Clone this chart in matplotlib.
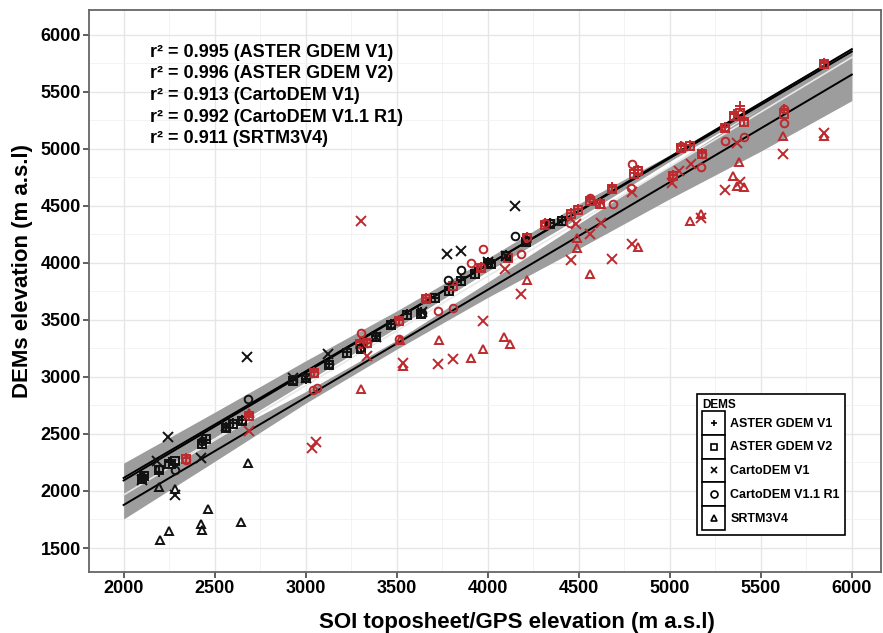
import numpy as np
import matplotlib
matplotlib.use("Agg")
import matplotlib.pyplot as plt
from matplotlib.legend_handler import HandlerBase
from matplotlib.patches import Rectangle
from matplotlib.lines import Line2D

plt.rcParams['font.family'] = ['Liberation Sans', 'DejaVu Sans']
plt.rcParams['font.weight'] = 'bold'

RED = '#bd2a2e'
BLACK = '#111111'

# stations close to the 1:1 line (shared by both ASTER versions)
stn_kx = [2100, 2110, 2195, 2250, 2285, 2430, 2455, 2565, 2600, 2650,
          2930, 3000, 3130, 3225, 3305, 3385, 3470, 3555, 3635, 3710,
          3785, 3855, 3930, 4000, 4020, 4100, 4210, 4340, 4410]
stn_rx = [2345, 2690, 3045, 3300, 3335, 3510, 3660, 3810, 3965, 4110,
          4215, 4315, 4455, 4495, 4560, 4615, 4685, 4805, 4825, 5015,
          5060, 5110, 5175, 5305, 5350, 5385, 5410, 5625, 5845]

aster1_ky = [2115, 2125, 2165, 2250, 2235, 2425, 2445, 2560, 2595, 2620,
             2975, 2985, 3115, 3215, 3255, 3360, 3465, 3555, 3565, 3695,
             3760, 3845, 3915, 4005, 3995, 4065, 4195, 4350, 4375]
aster1_ry = [2290, 2665, 3040, 3305, 3300, 3495, 3695, 3805, 3960, 4050,
             4225, 4345, 4440, 4475, 4555, 4520, 4660, 4785, 4810, 4770,
             5020, 5030, 4960, 5190, 5300, 5370, 5250, 5350, 5750]
aster2_ky = [2105, 2130, 2180, 2240, 2265, 2410, 2455, 2550, 2590, 2610,
             2960, 2990, 3105, 3210, 3245, 3350, 3455, 3545, 3555, 3690,
             3750, 3840, 3905, 3995, 3990, 4060, 4185, 4340, 4365]
aster2_ry = [2280, 2655, 3030, 3290, 3295, 3490, 3685, 3795, 3955, 4040,
             4215, 4335, 4425, 4465, 4545, 4515, 4650, 4775, 4800, 4760,
             5010, 5025, 4955, 5180, 5285, 5310, 5235, 5305, 5740]

carto11_kx = [2100, 2195, 2285, 2430, 2565, 2650, 2685, 2930, 3130, 3300,
              3470, 3640, 3780, 3855, 4000, 4150, 4210, 4340]
carto11_ky = [2120, 2190, 2185, 2440, 2560, 2620, 2805, 2975, 3115, 3255,
              3465, 3560, 3850, 3935, 4000, 4235, 4195, 4350]
carto11_rx = [2345, 2690, 3040, 3060, 3045, 3302, 3335, 3510, 3510, 3660,
              3729, 3811, 3910, 3975, 3965, 4183, 4215, 4315, 4450, 4560,
              4686, 4685, 4785, 4795, 4825, 5015, 5060, 5173, 5175, 5304,
              5305, 5408, 5385, 5627, 5627, 5845]
carto11_ry = [2275, 2660, 2885, 2903, 3035, 3385, 3300, 3490, 3332, 3695,
              3577, 3604, 3998, 4121, 3960, 4077, 4225, 4345, 4349, 4568,
              4515, 4655, 4656, 4866, 4810, 4765, 5020, 4840, 4955, 5067,
              5190, 5102, 5300, 5225, 5348, 5745]

carto1_kx = [2100, 2186, 2246, 2285, 2427, 2560, 2678, 2930, 3000, 3121,
             3385, 3640, 3778, 3855, 4000, 4100, 4150]
carto1_ky = [2100, 2263, 2473, 1965, 2290, 2570, 3174, 2990, 2990, 3200,
             3350, 3570, 4077, 4103, 4010, 4055, 4498]
carto1_rx = [2690, 3034, 3056, 3302, 3335, 3537, 3729, 3811, 3975, 4095,
             4183, 4456, 4483, 4560, 4620, 4680, 4795, 4790, 5014, 5052,
             5118, 5173, 5304, 5370, 5386, 5621, 5846]
carto1_ry = [2526, 2377, 2429, 4366, 3183, 3122, 3113, 3157, 3490, 3946,
             3727, 4024, 4340, 4252, 4349, 4033, 4165, 4621, 4700, 4805,
             4866, 4393, 4638, 5050, 4708, 4954, 5138]

srtm_kx = [2192, 2285, 2465, 2427, 2432, 2252, 2202, 2646, 2684]
srtm_ky = [2035, 2018, 1842, 1711, 1658, 1649, 1570, 1728, 2245]
srtm_rx = [2690, 3302, 3537, 3520, 3734, 3910, 3975, 4090, 4123, 4216,
           4489, 4489, 4560, 4620, 4823, 5113, 5173, 5348, 5370, 5408,
           5381, 5621, 5846]
srtm_ry = [2680, 2894, 3096, 3320, 3323, 3166, 3244, 3350, 3288, 3849,
           4217, 4130, 3902, 4515, 4138, 4366, 4428, 4761, 4673, 4664,
           4884, 5111, 5111]

# fitted lines and confidence ribbons
fit_x = [2000, 6000]
fit_upper_a = [2114, 5851]
fit_upper_b = [2092, 5872]
fit_mid = [1965, 5800]
fit_lower = [1877, 5649]

rib_x = [2000, 2500, 3000, 3500, 4000, 4500, 5000, 5500, 6000]
rib_low_lo = [1754, 2259, 2769, 3243, 3696, 4124, 4561, 4978, 5421]
rib_low_hi = [2000, 2453, 2871, 3321, 3830, 4342, 4851, 5360, 5877]
rib_up_lo = [1984, 2470, 2955, 3431, 3925, 4394, 4889, 5357, 5816]
rib_up_hi = [2244, 2690, 3141, 3578, 4039, 4516, 4945, 5418, 5886]

r2_labels = ['r² = 0.995 (ASTER GDEM V1)', 'r² = 0.996 (ASTER GDEM V2)',
             'r² = 0.913 (CartoDEM V1)', 'r² = 0.992 (CartoDEM V1.1 R1)',
             'r² = 0.911 (SRTM3V4)']
dem_names = ['ASTER GDEM V1', 'ASTER GDEM V2', 'CartoDEM V1',
             'CartoDEM V1.1 R1', 'SRTM3V4']
dem_markers = ['+', 's', 'x', 'o', '^']


class BoxedKey(HandlerBase):
    def create_artists(self, legend, orig_handle, xdescent, ydescent,
                       width, height, fontsize, trans):
        box = Rectangle((-xdescent, -ydescent), width, height, fc='white',
                        ec='black', lw=1.2, transform=trans)
        m = Line2D([width / 2 - xdescent], [height / 2 - ydescent],
                   marker=orig_handle.get_marker(), ls='', color='black',
                   mfc='none', ms=5, mew=1.2, transform=trans)
        return [box, m]


fig = plt.figure(figsize=(8.83, 6.33), dpi=100)
ax = fig.add_axes([0.1008, 0.0964, 0.8969, 0.8878])

ax.fill_between(rib_x, rib_low_lo, rib_low_hi, color='#9d9d9d', lw=0, zorder=1)
ax.fill_between(rib_x, rib_up_lo, rib_up_hi, color='#9d9d9d', lw=0, zorder=1)

ax.plot(fit_x, fit_mid, color='#e8e8e8', lw=1.2, zorder=2)
ax.plot(fit_x, fit_upper_a, color='black', lw=1.4, zorder=2)
ax.plot(fit_x, fit_upper_b, color='black', lw=1.4, zorder=2)
ax.plot(fit_x, fit_lower, color='black', lw=1.4, zorder=2)

series = [
    ('+', stn_kx, aster1_ky, stn_rx, aster1_ry),
    ('s', stn_kx, aster2_ky, stn_rx, aster2_ry),
    ('x', carto1_kx, carto1_ky, carto1_rx, carto1_ry),
    ('o', carto11_kx, carto11_ky, carto11_rx, carto11_ry),
    ('^', srtm_kx, srtm_ky, srtm_rx, srtm_ry),
]
for mk, kx, ky, rx, ry in series:
    ms = 6.5 if mk in ('+', 'x') else 5.5
    ax.plot(kx, ky, ls='', marker=mk, ms=ms, mew=1.4, mfc='none',
            color=BLACK, zorder=3)
    ax.plot(rx, ry, ls='', marker=mk, ms=ms, mew=1.4, mfc='none',
            color=RED, zorder=3)

for i, lab in enumerate(r2_labels):
    ax.text(0.077, 0.925 - i * 0.0385, lab, transform=ax.transAxes,
            fontsize=13, fontweight='bold', va='center', ha='left')

ax.set_xlim(1810, 6160)
ax.set_ylim(1290, 6215)
ax.set_xticks(np.arange(2000, 6001, 500))
ax.set_yticks(np.arange(1500, 6001, 500))
ax.set_xticks(np.arange(2250, 6001, 500), minor=True)
ax.set_yticks(np.arange(1750, 6001, 500), minor=True)
ax.grid(which='major', color='#e6e6e6', lw=1.0, zorder=0)
ax.grid(which='minor', color='#f1f1f1', lw=0.6, zorder=0)
ax.set_axisbelow(True)
ax.tick_params(which='major', length=4, width=1.1, color='#333333',
               labelsize=13, pad=2)
ax.tick_params(which='minor', length=0)
for lab in ax.get_xticklabels() + ax.get_yticklabels():
    lab.set_fontweight('bold')
for sp in ax.spines.values():
    sp.set_color('#666666')
    sp.set_linewidth(1.3)

ax.set_xlabel('SOI toposheet/GPS elevation (m a.s.l)', fontsize=16,
              fontweight='bold')
ax.set_ylabel('DEMs elevation (m a.s.l)', fontsize=16, fontweight='bold')
# label centres measured in the reference (pixels -> axes fraction)
ax.xaxis.set_label_coords((517 - 89) / 792, -(612 - 572) / 562)
ax.yaxis.set_label_coords(-(89 - 33) / 792, 1 - (271 - 10) / 562)

handles = [Line2D([], [], marker=m, ls='') for m in dem_markers]
leg = ax.legend(handles, dem_names, handler_map={Line2D: BoxedKey()},
                title='DEMS', loc='lower left', bbox_to_anchor=(0.768, 0.066),
                fontsize=9, title_fontproperties={'weight': 'bold', 'size': 8.5},
                alignment='left', frameon=True, fancybox=False,
                edgecolor='black', framealpha=1, handlelength=1.85,
                handleheight=2.55, labelspacing=0, handletextpad=0.4,
                borderpad=0.4, borderaxespad=0)
leg.get_frame().set_linewidth(1.2)
for t in leg.get_texts():
    t.set_fontweight('bold')

fig.savefig('out.png', dpi=100)
